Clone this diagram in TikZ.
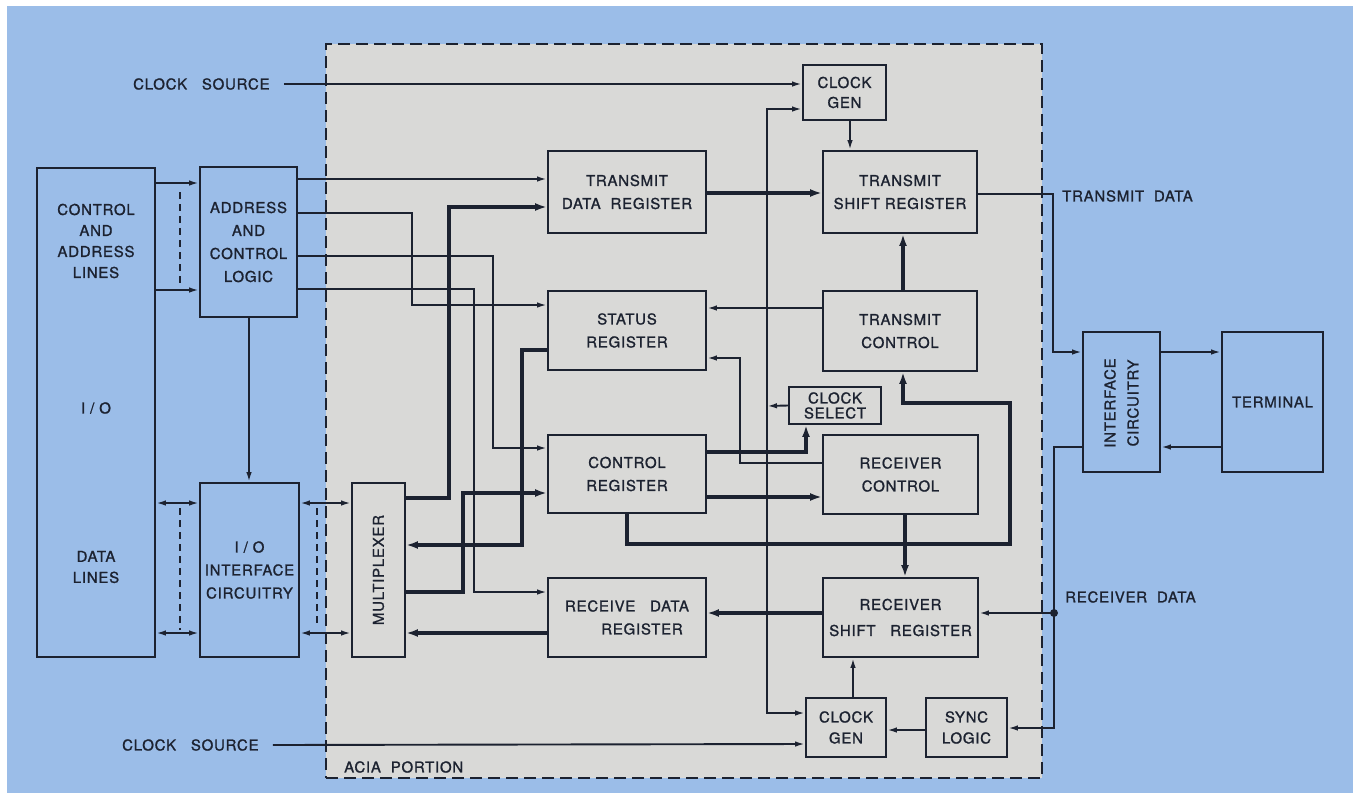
\documentclass[tikz,border=0pt]{standalone}
\usepackage{fontspec}
\setmainfont{TeX Gyre Heros}[LetterSpace=5,FakeBold=1.2]
\usetikzlibrary{arrows.meta,calc}
\definecolor{bgblue}{RGB}{155,189,232}
\definecolor{aciagray}{RGB}{217,217,215}
\definecolor{ink}{RGB}{28,34,48}
\newcommand{\boxfont}{\fontsize{15}{23}\selectfont}
\newcommand{\leftfont}{\fontsize{15}{21}\selectfont}
\begin{document}
\begin{tikzpicture}[x=1pt,y=-1pt,
  box/.style={draw=ink, line width=1.9pt, inner sep=0pt, align=center, text=ink, font=\boxfont},
  lbl/.style={text=ink, font=\boxfont, inner sep=0pt, align=center},
  thin/.style={draw=ink, line width=1.9pt},
  thk/.style={draw=ink, line width=3.8pt},
  arr/.style={-{Latex[length=10pt,width=5.5pt]}},
  arrt/.style={-{Latex[length=12pt,width=8pt]}},
  barr/.style={{Latex[length=10pt,width=5.5pt]}-{Latex[length=10pt,width=5.5pt]}},
  dsh/.style={draw=ink, line width=1.5pt, dash pattern=on 7pt off 5pt},
]
\useasboundingbox (0,0) rectangle (1361,793);
\fill[white] (0,0) rectangle (1361,793);
\fill[bgblue] (7,6) rectangle (1353,793);
\node[fill=aciagray, draw=ink, line width=1.8pt, dash pattern=on 12pt off 6pt,
      minimum width=716pt, minimum height=734pt, inner sep=0pt] (acia) at (684,411) {};

% boxes
\node[box, minimum width=118pt, minimum height=489pt] (left) at (96,412.5) {};
\node[lbl, font=\leftfont] (leftA) at (96,241) {CONTROL\\AND\\ADDRESS\\LINES};
\node[lbl] (leftIO) at (96,408) {I / O};
\node[lbl, font=\leftfont] (leftD) at (96,567) {DATA\\LINES};

\node[box, minimum width=97pt, minimum height=150pt] (addr) at (248.5,242) {ADDRESS\\AND\\CONTROL\\LOGIC};
\node[box, minimum width=99pt, minimum height=174pt] (io) at (249.5,570) {I / O\\INTERFACE\\CIRCUITRY};
\node[box, minimum width=53pt, minimum height=174pt] (mux) at (378.5,570) {};
\node[lbl, rotate=90] (muxlbl) at (378.5,570) {MULTIPLEXER};

\node[box, minimum width=158pt, minimum height=82pt] (tdr) at (627,192) {TRANSMIT\\DATA\ \ REGISTER};
\node[box, minimum width=158pt, minimum height=79pt] (sr) at (627,330.5) {STATUS\\REGISTER};
\node[box, minimum width=158pt, minimum height=78pt] (cr) at (627,474) {CONTROL\\REGISTER};
\node[box, minimum width=158pt, minimum height=79pt] (rdr) at (627,617.5) {RECEIVE\ \ \ DATA\\\hspace*{30pt}REGISTER};

\node[box, minimum width=83pt, minimum height=55pt, font=\fontsize{15}{20}\selectfont] (cg1) at (844.5,92.5) {CLOCK\\GEN};
\node[box, minimum width=154pt, minimum height=82pt] (tsr) at (900,192) {TRANSMIT\\SHIFT\ REGISTER};
\node[box, minimum width=154pt, minimum height=80pt] (tc) at (900,331) {TRANSMIT\\CONTROL};
\node[box, minimum width=92pt, minimum height=37pt, font=\fontsize{15}{15}\selectfont] (cs) at (835,405.5) {CLOCK\\SELECT};
\node[box, minimum width=155pt, minimum height=79pt] (rc) at (900.5,474.5) {RECEIVER\\CONTROL};
\node[box, minimum width=155pt, minimum height=79pt, font=\fontsize{15}{26}\selectfont] (rsr) at (900.5,617.5) {RECEIVER\\SHIFT\ \ \ REGISTER};
\node[box, minimum width=80pt, minimum height=59pt, font=\fontsize{15}{21}\selectfont] (cg2) at (846,727.5) {CLOCK\\GEN};
\node[box, minimum width=81pt, minimum height=59pt, font=\fontsize{15}{21}\selectfont] (sync) at (966.5,727.5) {SYNC\\LOGIC};

\node[box, minimum width=77pt, minimum height=140pt] (ifc) at (1121.5,402) {};
\node[lbl, rotate=90] (ifclbl) at (1121.5,403) {INTERFACE\\CIRCUITRY};
\node[box, minimum width=101pt, minimum height=140pt] (term) at (1272.5,402) {TERMINAL};

% free labels
\node[lbl, anchor=west] (csrc1) at (133,84) {CLOCK\ \ \ SOURCE};
\node[lbl, anchor=west] (csrc2) at (122,745) {CLOCK\ \ \ SOURCE};
\node[lbl, anchor=west] (txd) at (1062,196) {TRANSMIT\ \ DATA};
\node[lbl, anchor=west] (rxd) at (1065,597) {RECEIVER\ \ DATA};
\node[lbl, anchor=west] (aciap) at (344,767) {ACIA\ \ PORTION};

% coordinates
\coordinate (clk) at (767,406);
\coordinate (rxj) at (1054,613);

% left side
\draw[thin,arr] (left.east |- 0,183) -- (addr.west |- 0,183);
\draw[thin,arr] (left.east |- 0,290) -- (addr.west |- 0,290);
\draw[dsh] (180,192) -- (180,285);
\draw[thin,barr] (left.east |- 0,503) -- (io.west |- 0,503);
\draw[thin,barr] (left.east |- 0,633) -- (io.west |- 0,633);
\draw[dsh] (180,508) -- (180,630);
\draw[thin,barr] (io.east |- 0,503) -- (mux.west |- 0,503);
\draw[thin,barr] (io.east |- 0,633) -- (mux.west |- 0,633);
\draw[dsh] (317,508) -- (317,625);
\draw[thin,arr] (addr.south -| 249,0) -- (io.north -| 249,0);

% address logic outputs
\draw[thin,arr] (addr.east |- 0,179) -- (tdr.west |- 0,179);
\draw[thin,arr] (addr.east |- 0,213) -- (412,213) -- (412,305) -- (sr.west |- 0,305);
\draw[thin,arr] (addr.east |- 0,256) -- (493,256) -- (493,448) -- (cr.west |- 0,448);
\draw[thin,arr] (addr.east |- 0,289) -- (474,289) -- (474,592) -- (rdr.west |- 0,592);

% multiplexer buses
\draw[thk,arrt] (mux.east |- 0,498) -- (449,498) -- (449,207) -- (tdr.west |- 0,207);
\draw[thk,arrt] (sr.west |- 0,350) -- (522,350) -- (522,545) -- (mux.east |- 0,545);
\draw[thk,arrt] (mux.east |- 0,592) -- (463,592) -- (463,493) -- (cr.west |- 0,493);
\draw[thk,arrt] (rdr.west |- 0,633) -- (mux.east |- 0,633);

% transmit side
\draw[thin,arr] (csrc1.east) ++(14,0) -- (cg1.west |- 0,84);
\draw[thk,arrt] (tdr.east |- 0,193) -- (tsr.west |- 0,193);
\draw[thin,arr] (cg1.south -| 850,0) -- (tsr.north -| 850,0);
\draw[thk,arrt] (tc.north -| 903,0) -- (tsr.south -| 903,0);
\draw[thin,arr] (tc.west |- 0,308) -- (sr.east |- 0,308);
\draw[thin,arr] (rc.west |- 0,463) -- (740,463) -- (740,358) -- (sr.east |- 0,358);

% clock distribution
\draw[thin,arr] (cs.west) -- (clk);
\draw[thin,arr] (clk) -- (767,109) -- (cg1.west |- 0,109);
\draw[thin,arr] (clk) -- (767,713) -- (cg2.west |- 0,713);

% control register
\draw[thk,arrt] (cr.east |- 0,452) -- (806,452) -- (cs.south -| 806,0);
\draw[thk,arrt] (cr.east |- 0,497) -- (rc.west |- 0,497);
\draw[thk,arrt] (cr.south -| 627,0) -- (627,544) -- (1010,544) -- (1010,403) -- (903,403) -- (tc.south -| 903,0);

% receive side
\draw[thk,arrt] (rc.south -| 905,0) -- (rsr.north -| 905,0);
\draw[thk,arrt] (rsr.west |- 0,613) -- (rdr.east |- 0,613);
\draw[thin,arr] (cg2.north -| 853,0) -- (rsr.south -| 853,0);
\draw[thin,arr] (sync.west |- 0,730) -- (cg2.east |- 0,730);
\draw[thin,arr] (csrc2.east) ++(14,0) -- (cg2.west |- 0,744);

% terminal side
\draw[thin,arr] (tsr.east |- 0,194) -- (1053,194) -- (1053,352) -- (ifc.west |- 0,352);
\draw[thin,arr] (ifc.east |- 0,352) -- (term.west |- 0,352);
\draw[thin,arr] (term.west |- 0,447) -- (ifc.east |- 0,447);
\draw[thin,arr] (ifc.west |- 0,447) -- (rxj |- 0,447) -- (rxj |- 0,728) -- (sync.east |- 0,728);
\draw[thin,arr] (rxj) -- (rsr.east |- rxj);
\fill[ink] (rxj) circle (4pt);
\end{tikzpicture}
\end{document}
